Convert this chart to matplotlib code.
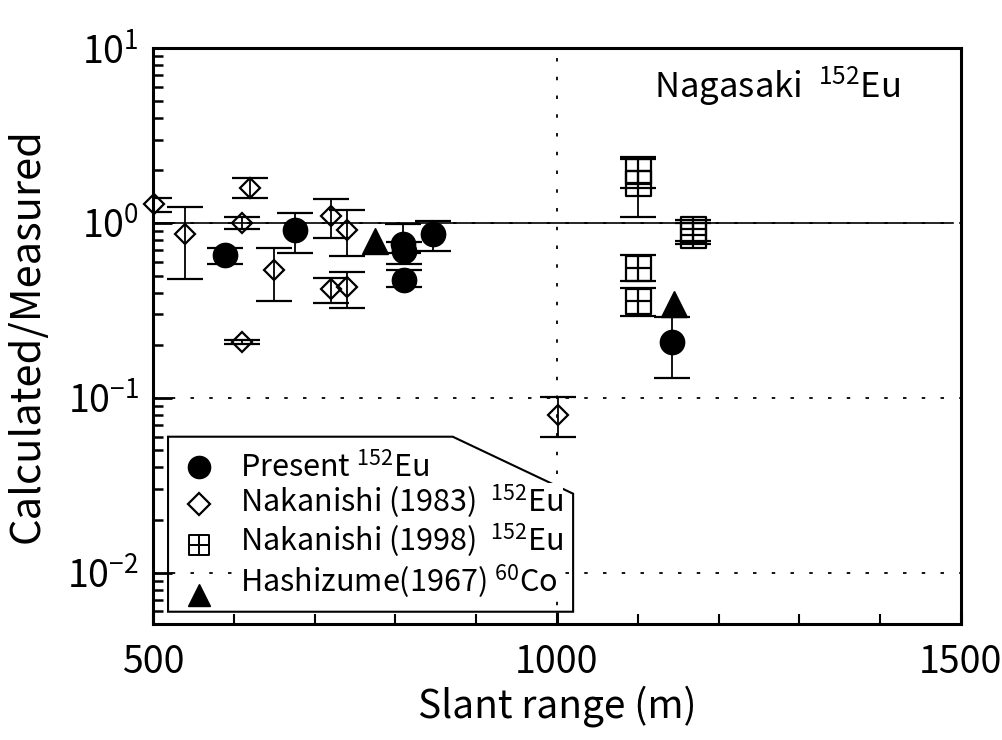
import numpy as np
import matplotlib
matplotlib.use('Agg')
import matplotlib.pyplot as plt
from matplotlib.path import Path
from matplotlib.patches import Polygon
from matplotlib.ticker import FixedLocator, FuncFormatter

plt.rcParams['font.family'] = ['Noto Sans CJK JP', 'DejaVu Sans']
plt.rcParams['mathtext.fontset'] = 'custom'
plt.rcParams['mathtext.rm'] = 'Noto Sans CJK JP'
plt.rcParams['mathtext.it'] = 'Noto Sans CJK JP'
plt.rcParams['mathtext.default'] = 'regular'
plt.rcParams['lines.scale_dashes'] = False

# Present 152Eu (filled circles)
present_x = [589, 676, 809, 811, 811, 846, 1142]
present_y = [0.656, 0.91, 0.758, 0.69, 0.47, 0.865, 0.209]
present_hi = [0.72, 1.14, 0.99, 0.78, 0.54, 1.03, 0.29]
present_lo = [0.58, 0.674, 0.67, 0.58, 0.43, 0.69, 0.13]

# Nakanishi (1983) 152Eu (open diamonds)
nak83_x = [501, 540, 610, 610, 620, 650, 720, 720, 740, 740, 1001]
nak83_y = [1.28, 0.865, 1.0, 0.209, 1.58, 0.54, 1.1, 0.42, 0.91, 0.43, 0.08]
nak83_hi = [1.39, 1.23, 1.08, 0.214, 1.81, 0.72, 1.37, 0.485, 1.19, 0.525, 0.101]
nak83_lo = [1.16, 0.48, 0.92, 0.203, 1.39, 0.36, 0.82, 0.35, 0.65, 0.327, 0.06]

# Nakanishi (1998) 152Eu (crossed squares)
nak98_x = [1100, 1100, 1100, 1100, 1169, 1169]
nak98_y = [1.98, 1.69, 0.553, 0.359, 0.92, 0.85]
nak98_hi = [2.38, 2.32, 0.656, 0.425, 1.04, 1.0]
nak98_lo = [1.58, 1.08, 0.466, 0.294, 0.79, 0.76]

# Hashizume (1967) 60Co (filled triangles)
hashi_x = [775, 1145]
hashi_y = [0.79, 0.344]

legend_labels = ['Present $^{152}$Eu', 'Nakanishi (1983)  $^{152}$Eu',
                 'Nakanishi (1998)  $^{152}$Eu', 'Hashizume(1967) $^{60}$Co']

# square with a cross inside
sq_cross = Path([(-1, -1), (1, -1), (1, 1), (-1, 1), (-1, -1),
                 (0, -1), (0, 1), (-1, 0), (1, 0)],
                [Path.MOVETO, Path.LINETO, Path.LINETO, Path.LINETO, Path.CLOSEPOLY,
                 Path.MOVETO, Path.LINETO, Path.MOVETO, Path.LINETO])

fig = plt.figure(figsize=(10.02, 7.40), dpi=100)
ax = fig.add_axes([0.1527, 0.157, 0.8063, 0.778])

ax.set_yscale('log')
ax.set_xlim(500, 1500)
ax.set_ylim(0.0051, 10)

# reference lines
dots = (0, (2.5, 11))
for yv in [0.1, 0.01]:
    ax.axhline(yv, color='k', lw=1.3, linestyle=dots, zorder=1)
ax.axhline(1.0, color='k', lw=1.3, linestyle=dots, zorder=1)
ax.plot([500, 1490], [1.0, 1.0], color='k', lw=1.2, zorder=1)
ax.axvline(1000, color='k', lw=1.3, linestyle=dots, zorder=1)

def err(y, hi, lo):
    y = np.array(y); return [y - np.array(lo), np.array(hi) - y]

eb = dict(fmt='none', ecolor='k', elinewidth=1.3, capsize=13, capthick=1.6, zorder=2)
ax.errorbar(present_x, present_y, yerr=err(present_y, present_hi, present_lo), **eb)
ax.errorbar(nak83_x, nak83_y, yerr=err(nak83_y, nak83_hi, nak83_lo), **eb)
ax.errorbar(nak98_x, nak98_y, yerr=err(nak98_y, nak98_hi, nak98_lo), **eb)

ax.plot(present_x, present_y, 'o', ms=17.5, color='k', zorder=3)
ax.plot(nak83_x, nak83_y, 'D', ms=10.5, mfc='none', mec='k', mew=1.6, zorder=3, clip_on=False)
ax.plot(nak98_x, nak98_y, marker=sq_cross, ls='none', ms=18, mfc='none', mec='k', mew=1.6, zorder=3)
ax.plot(hashi_x, hashi_y, '^', ms=18.5, color='k', zorder=3)

# legend box (hand drawn polygon like the original)
poly = Polygon([(0.0186, 0.325), (0.371, 0.325), (0.520, 0.226), (0.520, 0.021), (0.0186, 0.021)],
               closed=True, fill=False, edgecolor='k', lw=1.5, transform=ax.transAxes, zorder=4)
ax.add_patch(poly)
mk_x = 0.0569
ax.plot([mk_x], [0.2726], 'o', ms=16, color='k', transform=ax.transAxes, clip_on=False, zorder=5)
ax.plot([mk_x], [0.2083], 'D', ms=11, mfc='none', mec='k', mew=1.6, transform=ax.transAxes, clip_on=False, zorder=5)
ax.plot([mk_x], [0.1372], marker=sq_cross, ls='none', ms=15, mfc='none', mec='k', mew=1.4,
        transform=ax.transAxes, clip_on=False, zorder=5)
ax.plot([mk_x], [0.0503], '^', ms=16, color='k', transform=ax.transAxes, clip_on=False, zorder=5)
for lab, yy in zip(legend_labels, [0.255, 0.1927, 0.125, 0.0538]):
    ax.text(0.1077, yy, lab, transform=ax.transAxes, fontsize=22, va='baseline', ha='left',
            zorder=5, bbox=dict(facecolor='white', edgecolor='none', pad=0))

ax.text(0.620, 0.915, 'Nagasaki  $^{152}$Eu', transform=ax.transAxes, fontsize=25,
        va='baseline', ha='left')

# ticks
ax.yaxis.set_major_locator(FixedLocator([0.01, 0.1, 1, 10]))
ax.yaxis.set_minor_locator(FixedLocator([m * 10.0 ** e for e in [-3, -2, -1, 0] for m in range(2, 10)]))
ax.yaxis.set_major_formatter(FuncFormatter(lambda v, p: r'$10^{%d}$' % int(round(np.log10(v)))))
ax.yaxis.set_minor_formatter(FuncFormatter(lambda v, p: ''))
ax.xaxis.set_major_locator(FixedLocator([500, 1000, 1500]))
ax.xaxis.set_minor_locator(FixedLocator(list(range(600, 1500, 100))))
ax.tick_params(axis='y', which='major', direction='in', length=14, width=2, labelsize=27, pad=10)
ax.tick_params(axis='y', which='minor', direction='in', length=7, width=1.8)
ax.tick_params(axis='x', which='major', direction='in', length=9, width=2.2, labelsize=27, pad=14)
ax.tick_params(axis='x', which='minor', direction='in', length=7, width=1.5)
for s in ax.spines.values():
    s.set_linewidth(2.2)

ax.set_xlabel('Slant range (m)', fontsize=28, labelpad=2)
ax.set_ylabel('Calculated/Measured', fontsize=30, labelpad=14)

fig.savefig('out.png', dpi=100)
